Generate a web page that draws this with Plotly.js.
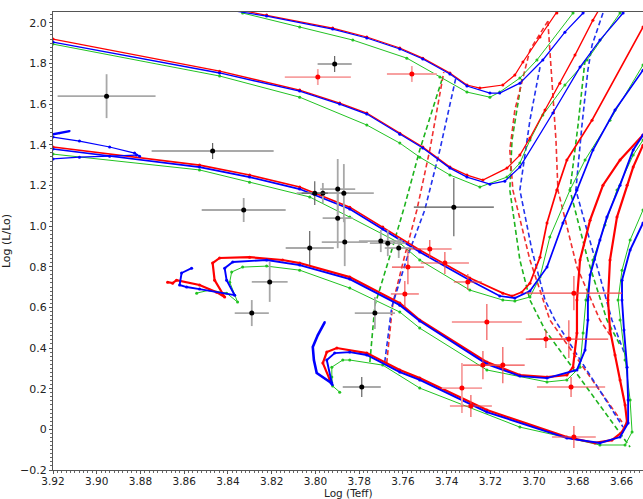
<!DOCTYPE html>
<html><head><meta charset="utf-8">
<script src="https://cdn.plot.ly/plotly-3.0.1.min.js"></script>
<style>html,body{margin:0;padding:0;background:#fff}#c{width:643px;height:499px}</style>
</head><body><div id="c"></div>
<script>
// ---- evolutionary tracks (solid) ----
const t5RedX=[3.8392,3.8223,3.7921,3.7765,3.7614,3.7509,3.7385,3.7307,3.7248,3.7143,3.7088,3.7051,3.6973,3.6896,3.6859];
const t5RedY=[2.072,2.038,1.974,1.930,1.876,1.826,1.753,1.694,1.679,1.694,1.743,1.807,1.930,2.048,2.112];
const t5BlueX=[3.8392,3.8223,3.7921,3.7765,3.7614,3.7509,3.7385,3.7307,3.7202,3.7157,3.7065,3.6960,3.6859,3.6776,3.6744];
const t5BlueY=[2.062,2.033,1.969,1.925,1.871,1.822,1.748,1.689,1.654,1.654,1.703,1.817,1.954,2.048,2.097];
const t5GreenX=[3.8333,3.8072,3.7829,3.7582,3.7431,3.7307,3.7202,3.7157,3.7065,3.6987,3.6822];
const t5GreenY=[2.048,1.979,1.915,1.826,1.733,1.659,1.634,1.659,1.728,1.817,2.048];

const t4RedX=[3.92,3.8438,3.8072,3.7889,3.7765,3.7614,3.7509,3.7385,3.7307,3.7234,3.7124,3.7065,3.7019,3.6950,3.6882,3.6813,3.6731,3.6699];
const t4RedY=[1.920,1.762,1.669,1.605,1.556,1.457,1.389,1.290,1.251,1.226,1.285,1.349,1.433,1.571,1.703,1.841,2.013,2.072];
const t4BlueX=[3.92,3.8438,3.8072,3.7889,3.7765,3.7614,3.7509,3.7385,3.7307,3.7202,3.7134,3.7065,3.6914,3.6790,3.6699,3.6593];
const t4BlueY=[1.905,1.753,1.664,1.600,1.551,1.452,1.384,1.285,1.241,1.206,1.221,1.290,1.556,1.782,1.915,2.048];
const t4GreenX=[3.92,3.8438,3.8072,3.7765,3.7614,3.7523,3.7385,3.7248,3.7124,3.7065,3.7019,3.6960,3.6859,3.6758,3.6607];
const t4GreenY=[1.895,1.738,1.634,1.497,1.408,1.339,1.251,1.192,1.241,1.310,1.423,1.546,1.694,1.817,2.048];

const t3RedX=[3.92,3.8530,3.8301,3.8072,3.7843,3.7692,3.7523,3.7294,3.7143,3.7101,3.7056,3.7019,3.6973,3.6941,3.6896,3.6850,3.6735,3.6502];
const t3RedY=[1.389,1.300,1.251,1.192,1.093,0.995,0.882,0.744,0.670,0.656,0.675,0.719,0.847,1.015,1.177,1.325,1.521,1.979];
const t3BlueX=[3.92,3.8530,3.8301,3.8072,3.7843,3.7692,3.7523,3.7294,3.7157,3.7088,3.7019,3.6941,3.6868,3.6804,3.6731,3.6630,3.6502];
const t3BlueY=[1.379,1.290,1.241,1.182,1.084,0.985,0.872,0.734,0.656,0.646,0.680,0.798,1.015,1.177,1.374,1.571,1.767];
const t3GreenX=[3.92,3.8530,3.8301,3.8026,3.7843,3.7614,3.7523,3.7294,3.7143,3.7088,3.7019,3.6973,3.6928,3.6836,3.6767,3.6653,3.6502];
const t3GreenY=[1.354,1.276,1.216,1.143,1.044,0.916,0.833,0.685,0.636,0.631,0.651,0.749,0.946,1.177,1.325,1.521,1.792];

const t2RedX=[3.8676,3.8653,3.8635,3.8530,3.8452,3.8415,3.8461,3.8470,3.8438,3.8301,3.8150,3.8072,3.7843,3.7614,3.7523,3.7216,3.7065,3.6941,3.6850,3.6822,3.6804,3.6804,3.6790,3.6744,3.6685,3.6607,3.6502];
const t2RedY=[0.724,0.719,0.734,0.710,0.675,0.651,0.734,0.818,0.843,0.847,0.833,0.818,0.749,0.621,0.538,0.331,0.267,0.257,0.267,0.306,0.474,0.636,0.833,1.029,1.201,1.325,1.448];
const t2BlueX=[3.8566,3.8612,3.8621,3.8589,3.8530,3.8369,3.8406,3.8415,3.8378,3.8223,3.8072,3.7843,3.7614,3.7523,3.7216,3.7065,3.6941,3.6804,3.6767,3.6754,3.6754,3.6744,3.6699,3.6667,3.6607,3.6547,3.6502];
const t2BlueY=[0.793,0.769,0.710,0.700,0.690,0.660,0.734,0.793,0.823,0.833,0.808,0.739,0.611,0.533,0.321,0.262,0.252,0.292,0.390,0.538,0.636,0.759,0.931,1.044,1.201,1.374,1.448];
const t2GreenX=[3.8543,3.8484,3.8406,3.8356,3.8392,3.8383,3.8333,3.8223,3.8072,3.7843,3.7614,3.7523,3.7216,3.6941,3.6850,3.6790,3.6776,3.6763,3.6731,3.6676,3.6621,3.6547,3.6502];
const t2GreenY=[0.670,0.685,0.670,0.626,0.724,0.774,0.798,0.803,0.783,0.695,0.577,0.498,0.292,0.233,0.243,0.306,0.474,0.636,0.833,1.005,1.177,1.349,1.423];

const t1RedX=[3.7934,3.7966,3.7948,3.7902,3.7765,3.7614,3.7523,3.7216,3.6850,3.6722,3.6644,3.6598,3.6575,3.6584,3.6607,3.6630,3.6653,3.6662,3.6653,3.6621,3.6575,3.6547,3.6502];
const t1RedY=[0.243,0.326,0.380,0.400,0.375,0.292,0.252,0.095,-0.038,-0.067,-0.053,-0.013,0.036,0.120,0.243,0.366,0.489,0.636,0.833,1.044,1.201,1.290,1.398];
const t1BlueX=[3.7925,3.7948,3.7912,3.7843,3.7765,3.7614,3.7523,3.7216,3.6850,3.6699,3.6607,3.6570,3.6570,3.6575,3.6589,3.6598,3.6598,3.6561,3.6502];
const t1BlueY=[0.228,0.341,0.375,0.380,0.366,0.282,0.243,0.085,-0.043,-0.067,-0.038,0.031,0.144,0.306,0.489,0.636,0.734,0.882,1.015];
const t1HookX=[3.7957,3.7989,3.8012,3.8007,3.7994,3.7934,3.7921];
const t1HookY=[0.528,0.464,0.405,0.341,0.277,0.233,0.218];
const t1GreenX=[3.7889,3.7921,3.7925,3.7925,3.7875,3.7843,3.7692,3.7523,3.7065,3.6699,3.6584,3.6552,3.6561,3.6584,3.6607,3.6616,3.6598,3.6561,3.6502];
const t1GreenY=[0.183,0.213,0.257,0.306,0.341,0.341,0.316,0.203,0.011,-0.077,-0.077,-0.013,0.144,0.341,0.538,0.636,0.783,0.931,1.079];

const b1X=[3.92,3.9170,3.9124], b1Y=[1.452,1.457,1.467];
const b2X=[3.92,3.9079,3.8941,3.8827,3.8804], b2Y=[1.438,1.418,1.389,1.359,1.344];
const b3X=[3.92,3.9079,3.8941,3.8818], b3Y=[1.330,1.339,1.344,1.349];

// ---- dashed lines ----
const d1GreenX=[3.7751,3.7737,3.7728,3.7651,3.7591,3.7523,3.7422], d1GreenY=[0.331,0.489,0.611,0.882,1.103,1.374,1.718];
const d1RedX=[3.7674,3.7646,3.7591,3.7536,3.7477,3.7413], d1RedY=[0.326,0.621,0.857,1.079,1.374,1.757];
const d1BlueX=[3.7683,3.7651,3.7577,3.7500,3.7431,3.7358], d1BlueY=[0.331,0.601,0.857,1.079,1.374,1.728];
const d2GreenX=[3.7056,3.7101,3.7111,3.7065,3.7019,3.6950,3.6561], d2GreenY=[1.723,1.423,1.177,0.833,0.636,0.489,-0.087];
const d2RedX=[3.6937,3.7019,3.7088,3.7111,3.7097,3.7019,3.6928,3.6598], d2RedY=[2.008,1.866,1.571,1.374,1.177,0.833,0.538,0.036];
const d2BlueX=[3.6973,3.7019,3.7065,3.7010,3.6950,3.6905,3.6593], d2BlueY=[1.782,1.521,1.177,0.882,0.636,0.538,0.011];
const d3RedX=[3.6937,3.6919,3.6900,3.6891,3.6804,3.6699,3.6653], d3RedY=[2.008,1.718,1.423,1.177,0.798,0.538,0.464];
const d3GreenX=[3.6767,3.6799,3.6836,3.6754,3.6667,3.6607], d3GreenY=[1.817,1.497,1.177,0.833,0.538,0.415];
const d3BlueX=[3.6685,3.6735,3.6754,3.6781,3.6809,3.6722,3.6644,3.6584], d3BlueY=[2.048,1.890,1.767,1.497,1.177,0.833,0.538,0.366];

// ---- observed stars ----
const blackLightX=[3.8955,3.8328,3.7966,3.7898,3.7870,3.7898,3.7866,3.7701,3.7669,3.7619,3.8209,3.8291,3.7728];
const blackLightY=[1.639,1.079,1.162,1.182,1.162,1.039,0.921,0.926,0.916,0.892,0.725,0.572,0.572];
const blackLightEX=[0.0224,0.0192,0.012,0.008,0.0137,0.0069,0.0105,0.010,0.0082,0.0064,0.0082,0.0078,0.0092];
const blackLightEY=[0.108,0.059,0.05,0.148,0.143,0.148,0.118,0.054,0.064,0.049,0.098,0.064,0.079];
const blackDarkX=[3.8470,3.7912,3.8003,3.8026,3.7788,3.7367];
const blackDarkY=[1.369,1.797,1.162,0.892,0.208,1.093];
const blackDarkEX=[0.0279,0.0078,0.006,0.011,0.0087,0.0183];
const blackDarkEY=[0.039,0.039,0.059,0.084,0.049,0.143];
const redLightX=[3.7989,3.7559,3.7330], redLightY=[1.733,1.748,0.203];
const redLightEX=[0.0151,0.0114,0.0092], redLightEY=[0.039,0.039,0.123];
const redX=[3.7577,3.7591,3.7477,3.7408,3.7303,3.6818,3.7216,3.6946,3.6841,3.7234,3.7143,3.6831,3.7289,3.6818];
const redY=[0.798,0.666,0.887,0.818,0.725,0.670,0.528,0.444,0.444,0.316,0.316,0.208,0.115,-0.038];
const redEX=[0.0073,0.0064,0.010,0.011,0.0064,0.022,0.016,0.0092,0.018,0.0092,0.010,0.0156,0.0096,0.010];
const redEY=[0.084,0.064,0.044,0.054,0.039,0.084,0.089,0.044,0.093,0.069,0.089,0.049,0.054,0.054];

const xTicks=[3.92,3.90,3.88,3.86,3.84,3.82,3.80,3.78,3.76,3.74,3.72,3.70,3.68,3.66];
const xTickText=['3.92','3.90','3.88','3.86','3.84','3.82','3.80','3.78','3.76','3.74','3.72','3.70','3.68','3.66'];
const yTicks=[-0.2,0,0.2,0.4,0.6,0.8,1.0,1.2,1.4,1.6,1.8,2.0];
const yTickText=['\u22120.2','0','0.2','0.4','0.6','0.8','1.0','1.2','1.4','1.6','1.8','2.0'];
const xTitle='Log (Teff)', yTitle='Log (L/Lo)';

const RED='#ff0000', BLUE='#0000ff', GREEN='#22c322';
function track(x,y,c,w,ms){return {x:x,y:y,type:'scatter',mode:'lines+markers',line:{color:c,width:w},marker:{color:c,size:ms},hoverinfo:'skip'};}
function dashed(x,y,c){return {x:x,y:y,type:'scatter',mode:'lines',line:{color:c,width:1.6,dash:'5px,3px'},hoverinfo:'skip'};}
function pts(x,y,ex,ey,ec,ew){return {x:x,y:y,type:'scatter',mode:'markers',marker:{color:ec==='k'?'#000':'#ff0000',size:5},
  error_x:{type:'data',array:ex,visible:true,color:ew.c,thickness:ew.t,width:0},
  error_y:{type:'data',array:ey,visible:true,color:ew.c,thickness:ew.t,width:0},hoverinfo:'skip'};}

const data=[
  dashed(d1GreenX,d1GreenY,'#1db31d'),dashed(d1RedX,d1RedY,'#f03030'),dashed(d1BlueX,d1BlueY,'#2233ee'),
  dashed(d2GreenX,d2GreenY,'#1db31d'),dashed(d2RedX,d2RedY,'#f03030'),dashed(d2BlueX,d2BlueY,'#2233ee'),
  dashed(d3GreenX,d3GreenY,'#1db31d'),dashed(d3RedX,d3RedY,'#f03030'),dashed(d3BlueX,d3BlueY,'#2233ee'),
  track(t5GreenX,t5GreenY,GREEN,1,3),track(t5RedX,t5RedY,RED,1.2,3),track(t5BlueX,t5BlueY,BLUE,1.2,3),
  track(t4GreenX,t4GreenY,GREEN,1,3),track(t4RedX,t4RedY,RED,1.3,3),track(t4BlueX,t4BlueY,BLUE,1.3,3),
  track(t3GreenX,t3GreenY,GREEN,1,3),track(t3RedX,t3RedY,RED,1.7,3),track(t3BlueX,t3BlueY,BLUE,1.7,3),
  track(t2GreenX,t2GreenY,GREEN,1,3),track(t2RedX,t2RedY,RED,2.2,3),track(t2BlueX,t2BlueY,BLUE,1.9,3),
  track(t1GreenX,t1GreenY,GREEN,1,3),track(t1RedX,t1RedY,RED,2.2,3),track(t1BlueX,t1BlueY,BLUE,1.9,3),
  track(t1HookX,t1HookY,BLUE,2.6,2),
  track(b1X,b1Y,BLUE,2.5,2),track(b2X,b2Y,BLUE,1.2,3),track(b3X,b3Y,BLUE,1.2,3),
  pts(blackLightX,blackLightY,blackLightEX,blackLightEY,'k',{c:'#a8a8a8',t:1.8}),
  pts(blackDarkX,blackDarkY,blackDarkEX,blackDarkEY,'k',{c:'#555555',t:1.1}),
  pts(redLightX,redLightY,redLightEX,redLightEY,'r',{c:'#f7a0a0',t:1.8}),
  pts(redX,redY,redEX,redEY,'r',{c:'#f04848',t:1.1})
];

const font={family:'DejaVu Sans, sans-serif',size:11,color:'#222'};
const layout={
  width:643,height:499,margin:{l:53,r:0,t:12,b:29},
  paper_bgcolor:'#fff',plot_bgcolor:'#fff',showlegend:false,font:font,
  xaxis:{range:[3.92,3.6502],tickmode:'array',tickvals:xTicks,ticktext:xTickText,ticks:'outside',ticklen:3,tickcolor:'#555',
    ticklabelstandoff:-2,
    showline:true,linecolor:'#555',linewidth:1,mirror:true,showgrid:false,zeroline:false,tickfont:{family:'DejaVu Sans, sans-serif',size:10.5,color:'#222'},
    minor:{ticks:'outside',ticklen:2,tickmode:'linear',tick0:3.92,dtick:0.002,tickcolor:'#666',showgrid:false}},
  yaxis:{range:[-0.2,2.053],tickmode:'array',tickvals:yTicks,ticktext:yTickText,ticks:'outside',ticklen:3,tickcolor:'#555',
    showline:true,linecolor:'#555',linewidth:1,mirror:false,showgrid:false,zeroline:false,tickfont:font,
    minor:{ticks:'outside',ticklen:2,tickmode:'linear',tick0:0,dtick:0.02,tickcolor:'#666',showgrid:false},
    title:{text:yTitle,font:{family:'DejaVu Sans, sans-serif',size:11,color:'#222'},standoff:11}},
  annotations:[{text:xTitle,xref:'paper',yref:'paper',x:0.5,y:0,xanchor:'center',yanchor:'top',yshift:-15,showarrow:false,
    font:{family:'DejaVu Sans, sans-serif',size:10.5,color:'#222'}}]
};
Plotly.newPlot('c',data,layout,{staticPlot:true,displayModeBar:false});
</script></body></html>
